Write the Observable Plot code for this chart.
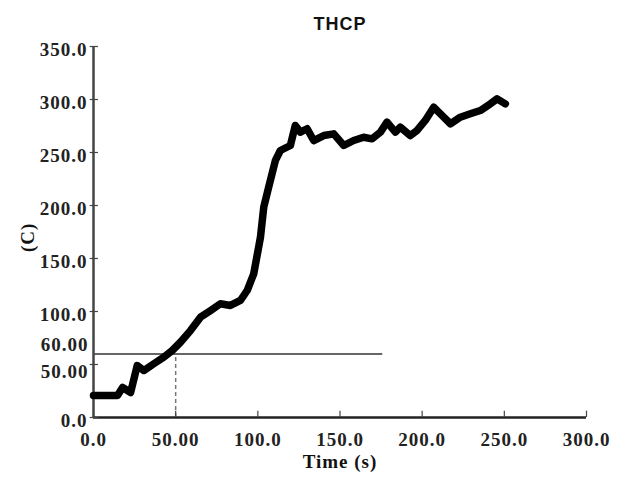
<!DOCTYPE html>
<html>
<head>
<meta charset="utf-8">
<script src="https://cdn.jsdelivr.net/npm/d3@7"></script>
<script src="https://cdn.jsdelivr.net/npm/@observablehq/plot@0.6"></script>
<style>
  html, body { margin: 0; padding: 0; background: #fff; }
  #chart { width: 619px; height: 479px; }
  #chart svg text { letter-spacing: 1px; }
</style>
</head>
<body>
<div id="chart"></div>
<script>
// ---- data ----
const title = "THCP";
const xLabel = "Time (s)";
const yLabel = "(C)";

const times = [0, 14.6, 17.7, 22.6, 26.6, 30.6, 36.7, 42.8, 47.9, 52.9, 59.0, 65.1, 71.2, 77.2, 83.3, 89.4, 93.5, 97.5, 101.6, 103.6, 106.6, 110.7, 113.7, 119.8, 122.8, 125.9, 130.0, 134.0, 140.1, 146.2, 152.3, 158.3, 164.4, 169.5, 174.6, 178.6, 183.7, 186.7, 192.8, 196.9, 201.9, 207.0, 211.1, 217.2, 223.2, 229.3, 235.4, 241.5, 245.6, 250.6];
const temps = [20.8, 20.8, 28.3, 23.6, 49.0, 44.3, 50.7, 56.9, 63.2, 71.0, 82.0, 94.6, 100.9, 107.3, 105.7, 110.4, 119.8, 135.6, 170.0, 198.4, 217.3, 242.5, 251.9, 256.6, 275.5, 269.2, 272.4, 261.3, 266.0, 267.6, 256.6, 261.3, 264.4, 262.9, 269.2, 278.6, 269.2, 273.9, 266.0, 270.8, 280.2, 292.7, 286.5, 277.1, 283.3, 286.5, 289.6, 295.9, 300.6, 295.9];

const threshold = 60;          // horizontal reference line
const thresholdEnd = 176;      // where the horizontal line stops (s)
const thresholdTime = 50;      // dashed vertical drop (s)

const xTicks = [0, 50, 100, 150, 200, 250, 300];
const xTickLabels = ["0.0", "50.00", "100.0", "150.0", "200.0", "250.0", "300.0"];
const yTicks = [0, 100, 150, 200, 250, 300, 350];
const yTickLabels = ["0.0", "100.0", "150.0", "200.0", "250.0", "300.0", "350.0"];
const yExtraTicks = [50, 60];
const yExtraLabels = ["50.00", "60.00"];

const series = times.map((t, i) => ({ t, T: temps[i] }));
const serif = "'Liberation Serif', 'Times New Roman', serif";
const labelStyle = { fontSize: 19, fontWeight: "bold", fill: "#222" };

const chart = Plot.plot({
  width: 619,
  height: 479,
  marginLeft: 93,
  marginRight: 33,
  marginTop: 46,
  marginBottom: 62,
  style: { fontFamily: serif, background: "#fff" },
  x: { domain: [0, 300] },
  y: { domain: [0, 350] },
  marks: [
    // threshold lines
    Plot.ruleY([threshold], { x1: 0, x2: thresholdEnd, stroke: "#666", strokeWidth: 2 }),
    Plot.ruleX([thresholdTime], { y1: 0, y2: threshold, stroke: "#777", strokeWidth: 1.5, strokeDasharray: "4,3" }),
    // axis lines
    Plot.ruleX([0], { y1: 0, y2: 350, stroke: "#444", strokeWidth: 2.5 }),
    Plot.ruleY([0], { x1: 0, x2: 300, stroke: "#222", strokeWidth: 2.5 }),
    // tick marks
    Plot.ruleX(xTicks, { x: d => d, y1: 0, y2: 6, stroke: "#444", strokeWidth: 1.2 }),
    Plot.ruleY(yTicks.concat([yExtraTicks[0]]), { y: d => d, x1: -2, x2: 3, stroke: "#444", strokeWidth: 1.2 }),
    // axes labels
    Plot.axisX({
      ticks: xTicks, tickSize: 0, tickPadding: 15,
      tickFormat: d => xTickLabels[xTicks.indexOf(d)],
      ...labelStyle, label: null
    }),
    Plot.axisY({
      ticks: yTicks, tickSize: 0, tickPadding: 6, dy: 3,
      tickFormat: d => yTickLabels[yTicks.indexOf(d)],
      ...labelStyle, label: null
    }),
    Plot.text([yExtraTicks[0]], {
      x: 0, y: d => d, text: [yExtraLabels[0]],
      textAnchor: "end", dx: -5, dy: 7, ...labelStyle
    }),
    Plot.text([yExtraTicks[1]], {
      x: 0, y: d => d, text: [yExtraLabels[1]],
      textAnchor: "end", dx: -5, dy: -9, ...labelStyle
    }),
    // data curve
    Plot.line(series, { x: "t", y: "T", stroke: "black", strokeWidth: 7.5, strokeLinejoin: "round", strokeLinecap: "round" }),
    // titles
    Plot.text([title], { frameAnchor: "top", dy: -29, fontSize: 18, fontWeight: "bold", fontFamily: "'Liberation Sans', Arial, sans-serif", fill: "#111" }),
    Plot.text([xLabel], { frameAnchor: "bottom", dy: 50, fontSize: 19, fontWeight: "bold", fill: "#111" }),
    Plot.text([yLabel], { frameAnchor: "left", dx: -66, dy: 20, rotate: -90, fontSize: 19, fontWeight: "bold", fill: "#111" })
  ]
});
document.getElementById("chart").appendChild(chart);
</script>
</body>
</html>
